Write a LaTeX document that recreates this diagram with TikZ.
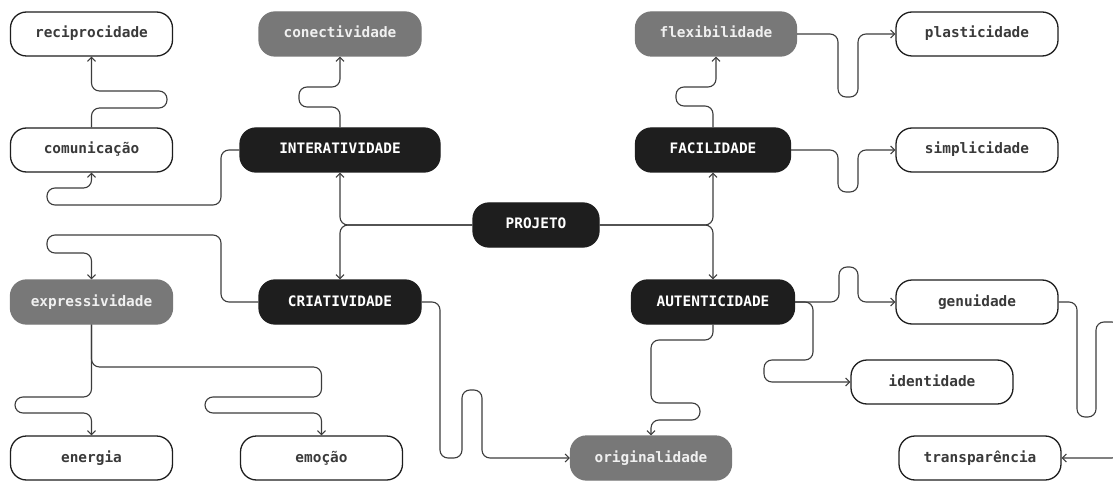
\documentclass[tikz,border=0pt]{standalone}
\usepackage{fontspec}
\setmonofont{DejaVu Sans Mono}
\usetikzlibrary{arrows.meta, positioning}
\definecolor{HubBlack}   {RGB}{ 30,  30,  30}
\definecolor{AccentGray} {RGB}{120, 120, 120}
\definecolor{LineGray}   {RGB}{ 60,  60,  60}
\definecolor{TextDark}   {RGB}{ 58,  58,  58}
\definecolor{TextLight}  {RGB}{240, 240, 240}
\tikzset{
  % Common rounded box
  conceptbox/.style={
    rectangle, rounded corners=16pt,
    line width=1.3pt, inner sep=0pt,
    minimum width=162pt, minimum height=44pt,
    text height=10.5pt, text depth=2.5pt,
    font=\ttfamily\bfseries\fontsize{14.4}{17}\selectfont, align=center
  },
  % Main concepts (black)
  hub/.style={
    conceptbox, fill=HubBlack, draw=HubBlack, text=white
  },
  % Highlighted sub-concepts (grey)
  accent/.style={
    conceptbox, fill=AccentGray, draw=AccentGray, text=TextLight
  },
  % Plain sub-concepts (white)
  leaf/.style={
    conceptbox, fill=white, draw=HubBlack, text=TextDark
  },
  % Wiggly connectors
  link/.style={
    -{Straight Barb[length=4pt, width=8pt]},
    line width=1.1pt, color=LineGray, rounded corners=8pt
  }
}

\begin{document}
\begin{tikzpicture}[x=1pt, y=-1pt]

  \path[use as bounding box, fill=white] (0,0) rectangle (1113,481);
  \clip (0,0) rectangle (1113,481);

  % ── CENTRE ────────────────────────────────────────────────────────────────
  \node[hub, minimum width=126pt] (projeto) at (536,225) {PROJETO};

  % ── MAIN CONCEPTS ─────────────────────────────────────────────────────────
  \node[hub, minimum width=200pt] (interat) at (340,150)   {INTERATIVIDADE};
  \node[hub]                      (criat)   at (340,302)   {CRIATIVIDADE};
  \node[hub, minimum width=155pt] (facil)   at (713,150)   {FACILIDADE};
  \node[hub, minimum width=163pt] (autent)  at (713,302)   {AUTENTICIDADE};

  % ── LEFT SIDE ─────────────────────────────────────────────────────────────
  \node[leaf]   (recipro) at (91.5,34)  {reciprocidade};
  \node[accent] (conect)  at (340,34)   {conectividade};
  \node[leaf]   (comunic) at (91.5,150) {comunicação};
  \node[accent] (express) at (91.5,302) {expressividade};
  \node[leaf]   (energia) at (91.5,458) {energia};
  \node[leaf]   (emocao)  at (321.5,458) {emoção};

  % ── RIGHT SIDE ────────────────────────────────────────────────────────────
  \node[accent, minimum width=161pt] (flexib) at (716,34) {flexibilidade};
  \node[leaf]   (plastic) at (977,34)  {plasticidade};
  \node[leaf]   (simplic) at (977,150) {simplicidade};
  \node[leaf]   (genuid)  at (977,302) {genuidade};
  \node[leaf]   (identid) at (932,382) {identidade};
  \node[accent, minimum width=161pt] (origin) at (651,458) {originalidade};
  \node[leaf]   (transp)  at (980,458) {transparência};

  % ── ARROWS: centre → main concepts ───────────────────────────────────────
  \draw[link] (projeto.west) -| (interat.south);
  \draw[link] (projeto.west) -| (criat.north);
  \draw[link] (projeto.east) -| (facil.south);
  \draw[link] (projeto.east) -| (autent.north);

  % Interatividade branch
  \draw[link] (interat.north) |- (299,107) |- (340,87) -- (conect.south);
  \draw[link] (interat.west) -| (221,205) -| (47,188) -| (comunic.south);
  \draw[link] (comunic.north) |- (167,108) |- (91.5,91) -- (recipro.south);

  % Criatividade branch
  \draw[link] (criat.west) -| (221,235) -| (47,253) -| (express.north);
  \draw[link] (express.south) |- (15,397) |- (91.5,413) -- (energia.north);
  \draw[link] (express.south) |- (321.5,367) |- (205,397) |- (321.5,413)
        -- (emocao.north);
  \draw[link] (criat.east) -| (440,458) -| (462,390) -| (482,458)
        -- (origin.west);

  % Facilidade branch
  \draw[link] (facil.north) |- (676,106) |- (716,87) -- (flexib.south);
  \draw[link] (flexib.east) -| (838,97) -| (858,34) -- (plastic.west);
  \draw[link] (facil.east) -| (838,192) -| (858,150) -- (simplic.west);

  % Autenticidade branch
  \draw[link] (autent.east) -| (839,267) -| (858,302) -- (genuid.west);
  \draw[link] (autent.east) -| (813,360) -| (764,382) -- (identid.west);
  \draw[link] (autent.south) |- (651,340) |- (700,403) |- (651,420)
        -- (origin.north);
  \draw[link] (genuid.east) -| (1077,417) -| (1096,322) -| (1120,458)
        -- (transp.east);

\end{tikzpicture}
\end{document}
